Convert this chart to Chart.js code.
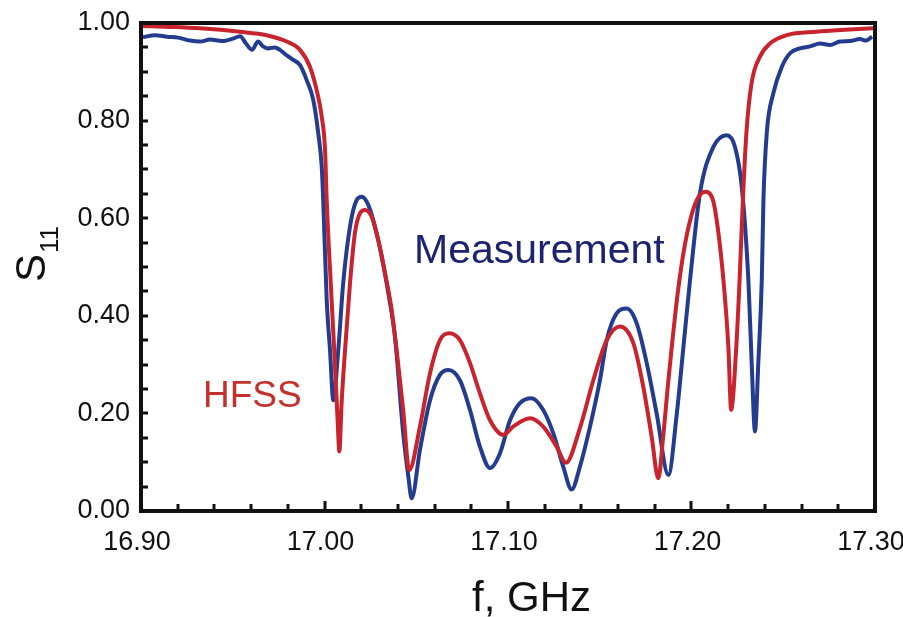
<!DOCTYPE html>
<html>
<head>
<meta charset="utf-8">
<script src="https://cdn.jsdelivr.net/npm/chart.js@4.4.1/dist/chart.umd.min.js"></script>
<style>
  body{margin:0;background:#fff}
  #wrap{width:903px;height:617px;position:relative}
</style>
</head>
<body>
<div id="wrap"><canvas id="myChart"></canvas></div>
<script>
// measured curve
var freqMeas=[16.9011,16.9076,16.9142,16.9202,16.9267,16.9322,16.9376,16.9441,16.9501,16.9540,16.9572,16.9605,16.9638,16.9665,16.9692,16.9730,16.9757,16.9790,16.9823,16.9866,16.9903,16.9939,16.9966,16.9985,16.9993,17.0012,17.0030,17.0048,17.0075,17.0102,17.0139,17.0175,17.0203,17.0239,17.0275,17.0312,17.0348,17.0384,17.0429,17.0457,17.0475,17.0520,17.0575,17.0629,17.0675,17.0738,17.0793,17.0847,17.0902,17.0956,17.1011,17.1065,17.1129,17.1192,17.1247,17.1301,17.1347,17.1392,17.1447,17.1501,17.1538,17.1592,17.1647,17.1701,17.1756,17.1810,17.1874,17.1920,17.1956,17.1992,17.2046,17.2119,17.2192,17.2237,17.2274,17.2310,17.2328,17.2346,17.2364,17.2383,17.2392,17.2410,17.2446,17.2492,17.2537,17.2591,17.2646,17.2700,17.2755,17.2809,17.2864,17.2918,17.2951,17.2984]
var s11Meas=[0.971,0.975,0.972,0.970,0.964,0.962,0.966,0.963,0.968,0.973,0.958,0.945,0.962,0.952,0.948,0.950,0.945,0.935,0.926,0.914,0.883,0.842,0.774,0.705,0.637,0.432,0.330,0.227,0.330,0.467,0.583,0.637,0.644,0.627,0.583,0.521,0.446,0.357,0.159,0.070,0.026,0.125,0.227,0.279,0.289,0.268,0.207,0.132,0.088,0.118,0.186,0.221,0.231,0.207,0.159,0.091,0.044,0.091,0.173,0.268,0.350,0.405,0.415,0.385,0.303,0.200,0.074,0.200,0.336,0.473,0.651,0.746,0.770,0.746,0.664,0.473,0.303,0.163,0.303,0.473,0.637,0.774,0.856,0.910,0.938,0.948,0.952,0.958,0.955,0.962,0.963,0.967,0.964,0.972]

// HFSS simulation
var freqHfss=[16.9000,16.9158,16.9322,16.9540,16.9685,16.9794,16.9866,16.9921,16.9957,16.9985,17.0003,17.0012,17.0035,17.0057,17.0071,17.0081,17.0093,17.0112,17.0139,17.0166,17.0193,17.0221,17.0257,17.0293,17.0330,17.0366,17.0393,17.0428,17.0462,17.0520,17.0575,17.0629,17.0680,17.0738,17.0793,17.0847,17.0902,17.0974,17.1028,17.1120,17.1192,17.1265,17.1316,17.1392,17.1465,17.1538,17.1610,17.1683,17.1737,17.1783,17.1819,17.1845,17.1872,17.1899,17.1926,17.1959,17.1992,17.2030,17.2074,17.2117,17.2145,17.2174,17.2201,17.2216,17.2244,17.2262,17.2280,17.2299,17.2327,17.2373,17.2428,17.2519,17.2682,17.2837,17.2989]
var s11Hfss=[0.994,0.992,0.989,0.982,0.975,0.962,0.945,0.910,0.863,0.808,0.740,0.637,0.460,0.300,0.190,0.122,0.220,0.330,0.467,0.570,0.610,0.617,0.603,0.555,0.487,0.412,0.330,0.210,0.084,0.173,0.282,0.350,0.364,0.350,0.303,0.241,0.186,0.156,0.173,0.190,0.173,0.132,0.099,0.170,0.268,0.350,0.378,0.344,0.255,0.152,0.067,0.150,0.260,0.360,0.450,0.535,0.595,0.638,0.654,0.637,0.575,0.473,0.336,0.207,0.336,0.473,0.637,0.774,0.876,0.931,0.958,0.975,0.982,0.986,0.989]

var xTicks=[16.90,17.00,17.10,17.20,17.30]
var yTicks=[0,0.2,0.4,0.6,0.8,1.0]

var blue="#233c8f"
var red="#c8242e"
var fontName="'Liberation Sans', Arial, sans-serif"

function pts(xs,ys){
    var out=[]
    for(var i=0;i<xs.length;i++){ out.push({x:xs[i],y:ys[i]}) }
    return out
}

// frame, inward ticks and text labels
var extras={
    id:'extras',
    afterDatasetsDraw:function(chart){
        var ctx=chart.ctx
        var a=chart.chartArea
        var xs=chart.scales.x, ys=chart.scales.y
        ctx.save()
        ctx.strokeStyle="#111"
        ctx.lineWidth=3
        ctx.lineCap="butt"
        ctx.beginPath()
        for(var i=1;i<20;i++){
            var v=16.90+i*0.02
            var px=Math.round(xs.getPixelForValue(v))
            var len=(i%5==0)?10:7
            ctx.moveTo(px,a.bottom)
            ctx.lineTo(px,a.bottom-len)
        }
        for(var j=1;j<20;j++){
            var py=Math.round(ys.getPixelForValue(j*0.05))
            ctx.moveTo(a.left,py)
            ctx.lineTo(a.left+7,py)
        }
        ctx.stroke()
        ctx.lineWidth=4
        ctx.strokeRect(a.left,a.top,a.right-a.left,a.bottom-a.top)

        // x title
        ctx.fillStyle="#111"
        ctx.textBaseline="alphabetic"
        ctx.textAlign="left"
        ctx.font="42px "+fontName
        ctx.fillText("f, GHz",472,611)

        // y title S11
        ctx.save()
        ctx.translate(45,282)
        ctx.rotate(-Math.PI/2)
        ctx.font="42px "+fontName
        ctx.fillText("S",0,0)
        var w=ctx.measureText("S").width
        ctx.font="26px "+fontName
        ctx.fillText("11",w+1,13)
        ctx.restore()

        // series labels
        ctx.font="41px "+fontName
        ctx.fillStyle="#1d2370"
        ctx.fillText("Measurement",414,263)
        ctx.font="37px "+fontName
        ctx.fillStyle="#c4302b"
        ctx.fillText("HFSS",203,407)
        ctx.restore()
    }
}

var myChart=document.getElementById("myChart").getContext('2d')
var chart=new Chart(myChart,{
    type:'line',
    data:{
        datasets:[
            {
                label:"HFSS",
                data:pts(freqHfss,s11Hfss),
                borderColor:red,
                borderWidth:4,
                pointRadius:0,
                cubicInterpolationMode:'monotone',
                fill:false
            },
            {
                label:"Measurement",
                data:pts(freqMeas,s11Meas),
                borderColor:blue,
                borderWidth:4,
                pointRadius:0,
                cubicInterpolationMode:'monotone',
                fill:false
            }
        ]
    },
    options:{
        responsive:true,
        maintainAspectRatio:false,
        animation:false,
        layout:{padding:{top:23,right:28,left:0,bottom:0}},
        plugins:{legend:{display:false},tooltip:{enabled:false}},
        scales:{
            x:{
                type:'linear',
                min:16.90,
                max:17.30,
                grid:{display:false,drawTicks:false},
                border:{display:false},
                afterBuildTicks:function(s){ s.ticks=xTicks.map(function(v){return {value:v}}) },
                afterFit:function(s){ s.height=106; s.paddingLeft=0; s.paddingRight=0 },
                ticks:{
                    autoSkip:false,
                    maxRotation:0,
                    padding:15,
                    labelOffset:-4,
                    color:"#111",
                    font:{family:fontName,size:27},
                    callback:function(v){ return Number(v).toFixed(2) }
                }
            },
            y:{
                type:'linear',
                min:0,
                max:1,
                grid:{display:false,drawTicks:false},
                border:{display:false},
                afterBuildTicks:function(s){ s.ticks=yTicks.map(function(v){return {value:v}}) },
                afterFit:function(s){ s.width=141; s.paddingTop=0; s.paddingBottom=0 },
                ticks:{
                    padding:11,
                    color:"#111",
                    font:{family:fontName,size:27},
                    callback:function(v){ return Number(v).toFixed(2) }
                }
            }
        }
    },
    plugins:[extras]
})
</script>
</body>
</html>
